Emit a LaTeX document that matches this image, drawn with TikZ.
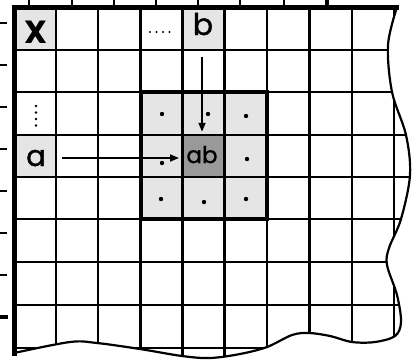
\documentclass[tikz,border=0pt]{standalone}
\usepackage{fontspec}
\setmainfont{Poppins}
\newfontfamily\pthick[FakeBold=1.3]{Poppins}
\usetikzlibrary{arrows.meta}
\definecolor{lightcell}{gray}{0.9}
\definecolor{darkcell}{gray}{0.6}
\begin{document}
\begin{tikzpicture}[x=1pt,y=-1pt,
  cellbox/.style={inner sep=0pt, outer sep=0pt, minimum width=42pt, minimum height=42.5pt},
  lbl/.style={anchor=base, inner sep=0pt},
  thinline/.style={line width=2.2pt},
  tickmark/.style={line width=1.5pt},
  bigtick/.style={line width=3.5pt},
  arr/.style={line width=1.8pt, -{Triangle[length=9pt,width=7pt]}},
]
\path[use as bounding box, fill=white] (0,0) rectangle (414,360);
% cells
\node[cellbox, fill=lightcell] (cx) at (35,28.5) {};
\node[cellbox] (cdots) at (161.25,28.5) {};
\node[cellbox, fill=lightcell] (cb) at (203.5,28.5) {};
\node[cellbox] (cvdots) at (35,113.5) {};
\node[cellbox, fill=lightcell] (ca) at (35,156) {};
\node[cellbox, fill=lightcell, minimum width=126.5pt, minimum height=127pt] (block) at (203.75,155.5) {};
\node[cellbox, fill=darkcell] (cab) at (203.5,156) {};
% grid
\begin{scope}
\clip (14,7) -- plot[smooth, tension=0.55] coordinates {(397,7) (388,45) (392,92) (406,135) (410,175) (401,219) (389,248) (387,265) (397,295) (401,322) (395,336) (375,342) (352,342) (330,336) (309,333) (292,335) (267,347) (240,354) (210,358) (182,356) (140,349) (97,343) (70,342) (14,353)} -- cycle;
\foreach \y in {50,92,135,177,219,262,305,348} \draw[thinline] (10,\y) -- (420,\y);
\foreach \x in {56,98,140.5,182.5,224.5,267,309.5,352,394} \draw[thinline] (\x,5) -- (\x,365);
\end{scope}
% boundary
\draw[thinline, line join=round] plot[smooth, tension=0.55] coordinates {(397,7) (388,45) (392,92) (406,135) (410,175) (401,219) (389,248) (387,265) (397,295) (401,322) (395,336) (375,342) (352,342) (330,336) (309,333) (292,335) (267,347) (240,354) (210,358) (182,356) (140,349) (97,343) (70,342) (14,353)};
\draw[line width=5pt] (11.5,7) -- (399,7);
\draw[line width=5pt] (14,4.5) -- (14,356);
% ticks
\foreach \x in {29,72,114,156,198,240,284} \draw[tickmark] (\x,0) -- (\x,5);
\draw[bigtick] (327,0) -- (327,6);
\foreach \y in {23,65,107,149,191,233,275} \draw[tickmark] (0,\y) -- (7,\y);
\draw[bigtick] (0,317) -- (8,317);
% block border
\draw[line width=4pt] (block.north west) rectangle (block.south east);
% dots in block
\foreach \p in {(162,114),(208,114),(246,116),(162,163),(247,159),(161,199),(204,202),(246,199)}
  \fill \p circle (2.2pt);
% ellipsis dots
\foreach \x in {150,156.5,163,169.5} \fill (\x,32) circle (1.2pt);
\foreach \y in {106,112.5,119,125.5} \fill (36,\y) circle (1.3pt);
% labels
\node[lbl, font=\fontsize{32}{32}\selectfont\bfseries] (tx) at (36,43.5) {X};
\node[lbl, font=\fontsize{30}{30}\selectfont\pthick] (tb) at (203,35) {b};
\node[lbl, font=\fontsize{29}{29}\selectfont\pthick] (ta) at (36,166) {a};
\node[lbl, font=\fontsize{23}{23}\selectfont\pthick] (tab) at (202,163) {ab};
% arrows
\draw[arr] ([xshift=6pt,yshift=-2pt]ca.east) -- ([xshift=-3.5pt,yshift=-2pt]cab.west);
\draw[arr] ([xshift=-1.5pt,yshift=-7pt]cb.south) -- ([xshift=-1.5pt,yshift=3pt]cab.north);
\end{tikzpicture}
\end{document}
